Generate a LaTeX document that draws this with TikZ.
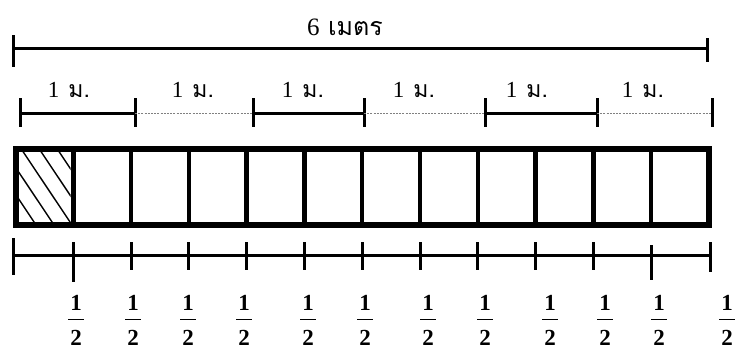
\documentclass[tikz,border=0pt]{standalone}
\usepackage{fontspec}
\newfontfamily\thaifont[Script=Thai]{Loma}
\newfontfamily\numfont{Liberation Serif}
% stacked one-half: numeral, bar, numeral
\newcommand\halfstack{\vbox{\hbox to 16pt{\hss\bfseries 1\hss}\kern8.5pt\hrule height 1pt\kern10pt\hbox to 16pt{\hss\bfseries 2\hss}}}
\tikzset{
  heavy/.style={line width=3pt},
  faint/.style={line width=0.8pt, gray, dash pattern=on 2pt off 1.2pt},
  tickmark/.style={line width=3pt},
  frame/.style={line width=6pt},
  divider/.style={line width=4.5pt},
  hatchline/.style={line width=1.4pt},
  thailabel/.style={font=\thaifont\fontsize{23}{26}\selectfont, inner sep=0pt},
  halflabel/.style={font=\numfont\fontsize{23}{26}\selectfont, inner sep=0pt, anchor=north},
}
\begin{document}
\begin{tikzpicture}[x=1pt, y=-1pt, line cap=butt]
\useasboundingbox (0,0) rectangle (736,356);

% overall length: 6 metres
\coordinate (a0) at (13,48);
\coordinate (a1) at (707,48);
\draw[heavy] (a0) -- (a1);
\draw[tickmark] (13,35) -- (13,67);
\draw[tickmark] (707,38) -- (707,62);
\node[thailabel, font=\thaifont\fontsize{25}{28}\selectfont] (total) at (345,27) {{\numfont 6} เมตร};

% six one-metre pieces, alternately solid and dotted
\foreach \i/\x in {0/20,1/135,2/253,3/364,4/485,5/597,6/712}{
  \coordinate (m\i) at (\x,113);
  \draw[tickmark] (\x,98) -- (\x,127);
}
\draw[heavy] (m0) -- (m1);
\draw[faint] (m1) -- (m2);
\draw[heavy] (m2) -- (m3);
\draw[faint] (m3) -- (m4);
\draw[heavy] (m4) -- (m5);
\draw[faint] (m5) -- (m6);
\foreach \i/\x in {1/69,2/193,3/303,4/414,5/527,6/643}{
  \node[thailabel] (lab\i) at (\x,90) {{\numfont 1}\kern9pt ม.};
}

% strip of twelve half-metre cells
\begin{scope}
  \clip (18.5,152) rectangle (70.5,222);
  \foreach \c in {-114,-96,-78,-60,-42}{
    \draw[hatchline] (\c+93.3,140) -- (\c+156.7,235);
  }
\end{scope}
\foreach \i in {1,...,11}{
  \draw[divider] (15.5+57.79*\i,149) -- (15.5+57.79*\i,225);
}
\draw[frame] (15.5,149) rectangle (709,225);

% number line under the strip
\coordinate (b0) at (13,255);
\coordinate (b1) at (710,255);
\draw[heavy] (b0) -- (b1);
\draw[tickmark] (13,238) -- (13,275);
\draw[tickmark] (710,242) -- (710,272);
\foreach \i in {2,...,10}{
  \draw[tickmark] (15.5+57.79*\i,242) -- (15.5+57.79*\i,270);
}
\draw[tickmark] (73.3,242) -- (73.3,282);
\draw[tickmark] (651.2,245) -- (651.2,280);

% halves
\foreach \i/\x in {1/76,2/133,3/188,4/244,5/308,6/365,7/428,8/485,9/550,10/605,11/659,12/727}{
  \node[halflabel] (h\i) at (\x,295) {\halfstack};
}
\end{tikzpicture}
\end{document}
